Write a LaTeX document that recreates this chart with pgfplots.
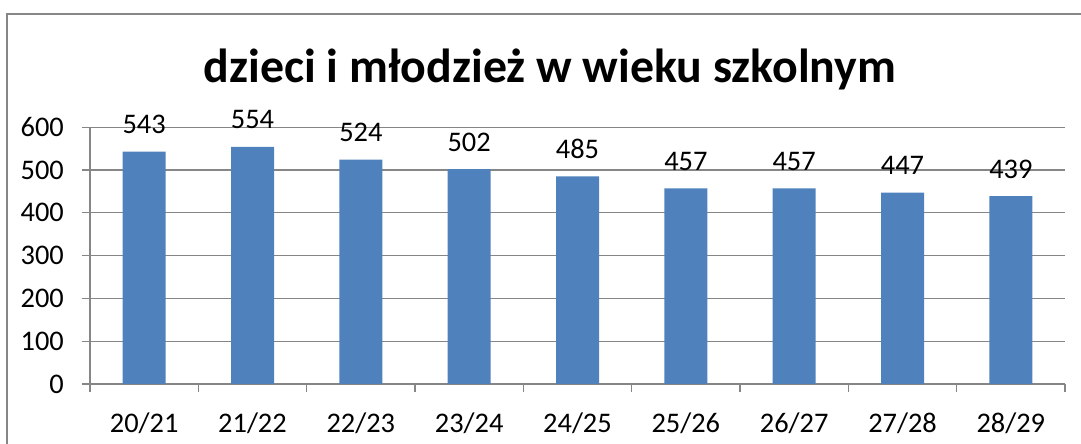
\documentclass[border=0pt]{standalone}
\usepackage{pgfplots}
\pgfplotsset{compat=1.18}
\usepackage{fontspec}
\setmainfont{Carlito}
\definecolor{barblue}{HTML}{4F81BD}
\definecolor{gridgray}{HTML}{868686}

\begin{document}
\begin{tikzpicture}[x=1bp,y=1bp]
\clip (0,0) rectangle (1081,444);
% chart frame (right and bottom edges lie outside the picture)
\draw[gridgray, line width=1.3bp] (7,-10) -- (7,430) -- (1100,430);
\node[anchor=base, font=\fontsize{48}{56}\selectfont\bfseries] at (550,361) {dzieci i młodzież w wieku szkolnym};
\begin{axis}[
    at={(90bp,60bp)}, anchor=south west,
    scale only axis, width=975bp, height=256.8bp,
    xmin=0, xmax=9, ymin=0, ymax=600,
    axis lines=left,
    axis line style={-, gridgray, line width=1.2bp},
    ytick={0,100,...,600},
    ymajorgrids,
    major grid style={gridgray, line width=1.2bp},
    xtick={0,1,...,9},
    xticklabels={20/21,21/22,22/23,23/24,24/25,25/26,26/27,27/28,28/29,},
    tick align=outside,
    major tick length=8bp,
    tick style={gridgray, line width=1.2bp},
    tick label style={font=\fontsize{28.5}{32}\selectfont, inner sep=0pt},
    /pgf/number format/assume math mode=true,
    yticklabel style={anchor=east, xshift=-18bp},
    xticklabel style={anchor=north, xshift=54.17bp, yshift=-21bp},
    ybar, bar width=43bp,
    nodes near coords,
    nodes near coords style={font=\fontsize{28.5}{32}\selectfont, anchor=base, yshift=18bp, inner sep=0pt},
]
\addplot[draw=none, fill=barblue] coordinates {
    (0.5,543) (1.5,554) (2.5,524) (3.5,502) (4.5,485)
    (5.5,457) (6.5,457) (7.5,447) (8.5,439)
};
\end{axis}
\end{tikzpicture}
\end{document}
